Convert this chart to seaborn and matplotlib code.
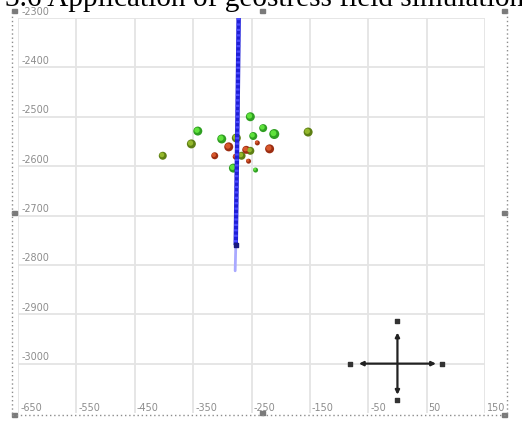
import matplotlib
matplotlib.use("Agg")
import matplotlib.pyplot as plt
import matplotlib.transforms as mtransforms
import seaborn as sns
import numpy as np
import pandas as pd

# ---------------- data ----------------
title_text = "3.6 Application of geostress field simulation"

x_ticks = [-650, -550, -450, -350, -250, -150, -50, 50, 150]
y_ticks = [-2300, -2400, -2500, -2600, -2700, -2800, -2900, -3000]

# well trajectory (x, depth)
well_x = [-272, -274, -277]
well_y = [-2300, -2500, -2760]
well_tail_x = [-277, -278]
well_tail_y = [-2765, -2812]

# microseismic events
ev_x = [-252, -230, -211, -153, -342, -353, -402, -301, -276, -247,
        -289, -240, -259, -252, -219, -313, -277, -267, -255, -281, -243]
ev_y = [-2500, -2523, -2535, -2531, -2529, -2555, -2579, -2545, -2543, -2539,
        -2561, -2553, -2567, -2569, -2565, -2579, -2581, -2579, -2590, -2604, -2608]
ev_kind = ["green", "green", "green", "olive", "green", "olive", "olive", "green", "olive", "green",
           "red", "red", "red", "olive", "red", "red", "red", "olive", "red", "green", "green"]
ev_mag = [4.5, 4.0, 5.0, 4.5, 4.5, 4.5, 4.0, 4.5, 4.5, 4.0,
          4.5, 2.5, 4.0, 4.0, 4.5, 3.5, 3.0, 4.0, 2.5, 4.5, 2.5]

# compass
compass_x = [0]
compass_y = [-3000]
compass_half_x = 66
compass_half_y = 63
compass_marks_x = [0, -82, 77, 0]
compass_marks_y = [-2913, -3000, -3000, -3073]

# ---------------- figure ----------------
W, H = 522, 421
sns.set_style("white")
fig = plt.figure(figsize=(W / 100, H / 100), dpi=100)
fig.patch.set_facecolor("white")

ax_l, ax_r, ax_t, ax_b = 18, 485, 18, 413
ax = fig.add_axes([ax_l / W, 1 - ax_b / H, (ax_r - ax_l) / W, (ax_b - ax_t) / H])
ax.set_xlim(-650, 150)
ax.set_ylim(-3100, -2300)
ax.set_xticks(x_ticks)
ax.set_yticks(y_ticks)
ax.grid(True, color="#e4e4e4", lw=1.3)
ax.tick_params(length=0, labelbottom=False, labelleft=False)
for s in ax.spines.values():
    s.set_visible(False)
ax.set_axisbelow(True)

# tick labels inside the plot
lab_col = "#8c8c8c"
for yv in y_ticks:
    ax.annotate(f"{yv}", xy=(-650, yv), xytext=(2.5, 1.0), textcoords="offset points",
                fontsize=6.9, color=lab_col, ha="left", va="bottom", annotation_clip=False)
for xv in x_ticks:
    ax.annotate(f"{xv}", xy=(xv, -3100), xytext=(1.5, 0.2), textcoords="offset points",
                fontsize=6.9, color=lab_col, ha="left", va="bottom", annotation_clip=False)

# events
df = pd.DataFrame({"x": ev_x, "y": ev_y, "kind": ev_kind, "mag": ev_mag})
base_col = {"green": "#2f9f22", "olive": "#5d7f14", "red": "#9c2e12"}
hi_col = {"green": "#5fe23c", "olive": "#94b82c", "red": "#d8582c"}
df["s"] = (2 * df["mag"] * 0.72) ** 2
for kind in ["green", "olive", "red"]:
    sub = df[df["kind"] == kind]
    sns.scatterplot(data=sub, x="x", y="y", s=sub["s"].values, color=base_col[kind],
                    edgecolor="none", ax=ax, zorder=3, legend=False)
    off = mtransforms.offset_copy(ax.transData, fig=fig, x=-0.6, y=0.6, units="points")
    ax.scatter(sub["x"], sub["y"], s=sub["s"].values * 0.35, color=hi_col[kind],
               edgecolor="none", transform=off, zorder=4)

# well
well = pd.DataFrame({"x": well_x, "y": well_y})
sns.lineplot(data=well, x="x", y="y", sort=False, estimator=None, ax=ax, color="#1f1fd6",
             lw=3.2, zorder=5, solid_capstyle="butt")
ax.plot(well_x, well_y, color="#4a4aff", lw=2.6, ls=(0, (0.6, 0.9)), zorder=6)
ax.plot(well_tail_x, well_tail_y, color="#a9a9ff", lw=2.0, zorder=5)
ax.scatter([well_x[-1]], [well_y[-1]], s=10, marker="s", color="#1a1a80", zorder=6)

# compass
cx, cy = compass_x[0], compass_y[0]
ax.annotate("", xy=(cx + compass_half_x, cy), xytext=(cx - compass_half_x, cy),
            arrowprops=dict(arrowstyle="<|-|>", color="#222222", lw=1.6,
                            mutation_scale=6, shrinkA=0, shrinkB=0), zorder=6)
ax.annotate("", xy=(cx, cy + compass_half_y), xytext=(cx, cy - compass_half_y),
            arrowprops=dict(arrowstyle="<|-|>", color="#222222", lw=1.6,
                            mutation_scale=6, shrinkA=0, shrinkB=0), zorder=6)
ax.scatter(compass_marks_x, compass_marks_y, s=7, marker="s", color="#333333", zorder=6)

ax.set_xlabel("")
ax.set_ylabel("")

# dotted frame and handles (figure pixels)
frame_col = "#8c8c8c"
fig.add_artist(plt.Line2D([12 / W, 12 / W], [1 - 12 / H, 1 - 415 / H], color=frame_col,
                          lw=1, ls=(0, (1, 2))))
fig.add_artist(plt.Line2D([507 / W, 507 / W], [1 - 12 / H, 1 - 415 / H], color=frame_col,
                          lw=1, ls=(0, (1, 2))))
fig.add_artist(plt.Line2D([12 / W, 507 / W], [1 - 415 / H, 1 - 415 / H], color=frame_col,
                          lw=1, ls=(0, (1, 2))))
for hx, hy in [(14, 11), (262, 11), (505, 11), (14, 213), (505, 213), (14, 415), (262, 413), (505, 415)]:
    fig.add_artist(plt.Rectangle((hx / W - 2.5 / W, 1 - hy / H - 2 / H), 5 / W, 4 / H,
                                 color="#7a7a7a", transform=fig.transFigure))

# title (cut by top edge): size it so that "geostress" spans ~107 px starting at x ~ 225
renderer = fig.canvas.get_renderer()
probe = fig.text(0, 0.5, "geostress", fontsize=21, family="Liberation Serif")
w_geo = probe.get_window_extent(renderer).width
probe.remove()
fs = 21 * 107 / w_geo
probe = fig.text(0, 0.5, "3.6 Application of ", fontsize=fs, family="Liberation Serif")
w_pre = probe.get_window_extent(renderer).width
probe.remove()
x0 = 225 - w_pre
fig.text(x0 / W, 1 - 6 / H, title_text, fontsize=fs, family="Liberation Serif",
         color="black", ha="left", va="baseline")

fig.savefig("out.png", dpi=100)
